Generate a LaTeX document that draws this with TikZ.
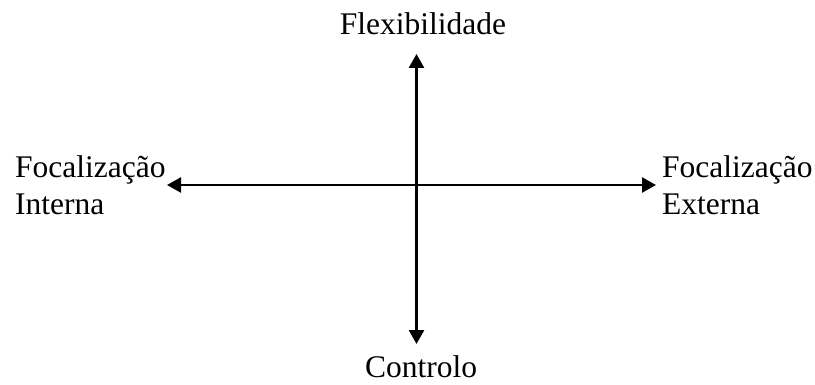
\documentclass[tikz,border=0pt]{standalone}
\usepackage{fontspec}
\setmainfont{Liberation Serif}
\usetikzlibrary{arrows.meta}
\tikzstyle{axislabel} = [inner sep=0pt, font=\fontsize{31.5}{37}\selectfont, align=left]
\tikzstyle{axis} = [line width=2.5pt, {Triangle[length=14pt,width=15pt]}-{Triangle[length=14pt,width=15pt]}]

\begin{document}
\begin{tikzpicture}[x=1pt, y=-1pt]
  \useasboundingbox (0,0) rectangle (815,385);
  % axis ends
  \coordinate (top) at (416.5,54);
  \coordinate (bottom) at (416.5,344);
  \coordinate (left) at (167,185);
  \coordinate (right) at (656,185);

  \node (flex) [axislabel, anchor=base] at (423,35) {Flexibilidade};
  \node (ctrl) [axislabel, anchor=base] at (421,377) {Controlo};
  \node (inner) [axislabel, anchor=west] at (15,185) {Focalização\\Interna};
  \node (outer) [axislabel, anchor=west] at (662,185) {Focalização\\Externa};

  \draw[axis] (top) -- (bottom);
  \draw[axis] (left) -- (right);
\end{tikzpicture}
\end{document}
